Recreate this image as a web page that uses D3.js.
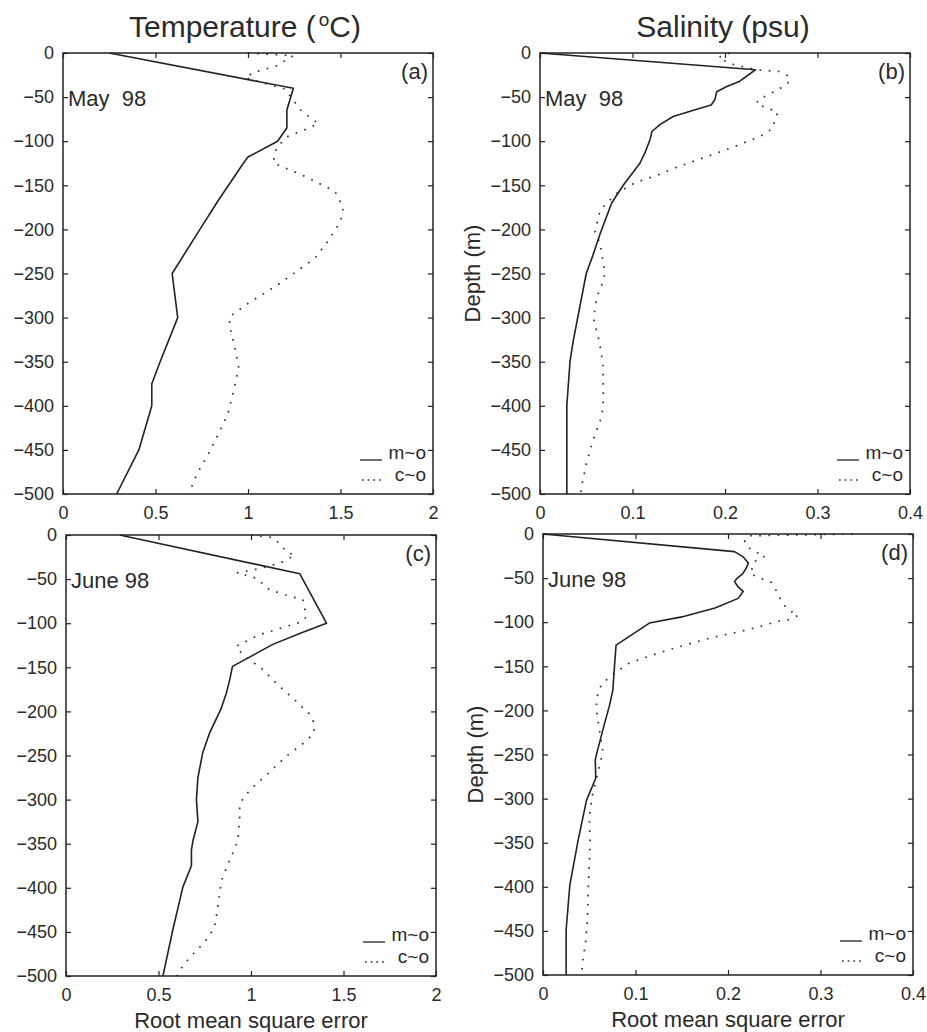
<!DOCTYPE html>
<html><head><meta charset="utf-8">
<script src="https://cdn.jsdelivr.net/npm/d3@7"></script>
<style>
html,body{margin:0;padding:0;background:#fff;}
svg text{font-family:"Liberation Sans",Arial,Helvetica,sans-serif;fill:#2a2a2a;}
</style></head><body>
<svg id="chart" width="927" height="1032"></svg>
<script>
// ---------------- data ----------------
const depthTicks = [0,-50,-100,-150,-200,-250,-300,-350,-400,-450,-500];
const tempTicks = [0,0.5,1,1.5,2];
const salTicks = [0,0.1,0.2,0.3,0.4];
const monthLabels = ["May  98","June 98"];
const panelLetters = ["(a)","(b)","(c)","(d)"];
const legendLabels = ["m~o","c~o"];
const xAxisLabel = "Root mean square error";
const yAxisLabel = "Depth (m)";

// [depth (m), RMS error]
const tempMayMO = [[0,0.25],[-40,1.245],[-65,1.21],[-85,1.21],[-100,1.16],[-118,1.0],[-125,0.975],[-167,0.84],[-200,0.74],[-250,0.59],[-300,0.62],[-350,0.525],[-375,0.48],[-400,0.48],[-450,0.41],[-500,0.29]];
const tempMayCO = [[0,1.0],[-3,1.245],[-10,1.19],[-15,1.15],[-19,1.08],[-22,1.03],[-28,0.985],[-41,1.2],[-66,1.29],[-80,1.38],[-86,1.32],[-95,1.21],[-106,1.16],[-115,1.14],[-125,1.14],[-140,1.31],[-157,1.47],[-175,1.515],[-191,1.5],[-214,1.43],[-233,1.36],[-263,1.16],[-284,1.0],[-299,0.9],[-309,0.9],[-335,0.93],[-357,0.95],[-385,0.92],[-410,0.89],[-432,0.84],[-455,0.785],[-479,0.72],[-500,0.68]];
const salMayMO = [[0,0.0],[-19,0.233],[-32,0.216],[-38,0.202],[-44,0.191],[-53,0.189],[-59,0.185],[-65,0.166],[-72,0.144],[-81,0.13],[-89,0.121],[-98,0.119],[-113,0.1135],[-125,0.108],[-150,0.09],[-170,0.0775],[-205,0.065],[-230,0.057],[-250,0.05],[-288,0.043],[-326,0.036],[-349,0.0325],[-400,0.029],[-500,0.029]];
const salMayCO = [[0,0.205],[-5,0.193],[-12,0.205],[-19,0.234],[-21,0.259],[-27,0.27],[-34,0.268],[-42,0.257],[-47,0.247],[-53,0.236],[-58,0.234],[-62,0.245],[-67,0.257],[-75,0.254],[-85,0.252],[-93,0.241],[-103,0.218],[-112,0.195],[-121,0.171],[-129,0.149],[-138,0.128],[-147,0.103],[-159,0.083],[-169,0.0735],[-178,0.065],[-203,0.0595],[-216,0.065],[-241,0.069],[-250,0.0703],[-263,0.0667],[-276,0.0617],[-290,0.0595],[-301,0.058],[-314,0.061],[-327,0.064],[-352,0.068],[-390,0.0685],[-403,0.068],[-417,0.065],[-440,0.057],[-466,0.05],[-491,0.045],[-500,0.044]];
const tempJunMO = [[0,0.29],[-44,1.264],[-100,1.408],[-111,1.27],[-124,1.118],[-149,0.9],[-164,0.885],[-179,0.867],[-196,0.84],[-205,0.82],[-224,0.777],[-247,0.739],[-275,0.713],[-300,0.705],[-325,0.713],[-347,0.686],[-357,0.678],[-375,0.678],[-399,0.632],[-447,0.578],[-500,0.524]];
const tempJunCO = [[0,1.0],[-3,1.12],[-12,1.165],[-19,1.19],[-23,1.237],[-32,1.156],[-38,1.047],[-43,0.925],[-49,1.03],[-62,1.1],[-70,1.219],[-73,1.28],[-83,1.29],[-92,1.3],[-98,1.28],[-105,1.17],[-113,1.047],[-126,0.92],[-136,0.956],[-151,1.056],[-170,1.146],[-187,1.237],[-205,1.327],[-217,1.345],[-226,1.335],[-235,1.29],[-251,1.19],[-269,1.1],[-286,1.01],[-296,0.966],[-305,0.939],[-319,0.939],[-345,0.93],[-356,0.912],[-368,0.885],[-392,0.84],[-405,0.831],[-432,0.813],[-443,0.804],[-454,0.777],[-464,0.739],[-473,0.695],[-484,0.65],[-494,0.614],[-500,0.6]];
const salJunMO = [[0,0.0],[-20,0.207],[-26,0.2165],[-33,0.222],[-38,0.22],[-45,0.216],[-50,0.21],[-54,0.207],[-60,0.211],[-65,0.2165],[-73,0.211],[-84,0.186],[-94,0.15],[-101,0.115],[-126,0.079],[-150,0.0773],[-177,0.0755],[-194,0.072],[-215,0.0665],[-245,0.059],[-256,0.0565],[-277,0.057],[-302,0.047],[-347,0.038],[-398,0.029],[-449,0.025],[-500,0.025]];
const salJunCO = [[0,0.335],[-2,0.222],[-8,0.218],[-14,0.22],[-20,0.229],[-25,0.24],[-31,0.229],[-45,0.224],[-50,0.2345],[-55,0.247],[-65,0.2526],[-77,0.258],[-86,0.265],[-92,0.276],[-97,0.267],[-99,0.254],[-106,0.231],[-112,0.207],[-117,0.184],[-124,0.16],[-131,0.137],[-139,0.1135],[-147,0.092],[-162,0.072],[-171,0.063],[-182,0.059],[-196,0.0575],[-209,0.059],[-222,0.061],[-247,0.0647],[-298,0.053],[-322,0.05],[-349,0.051],[-399,0.049],[-438,0.048],[-464,0.046],[-477,0.044],[-490,0.0423],[-500,0.042]];

// ---------------- layout ----------------
const W = 370, H = 441;
const layout = [{left:63, top:53},{left:540, top:53},{left:66, top:535},{left:543, top:534}];
const panelDefs = [
  {mo: tempMayMO, co: tempMayCO, ticks: tempTicks, month: monthLabels[0], letter: panelLetters[0], yLab:false, xLab:false},
  {mo: salMayMO,  co: salMayCO,  ticks: salTicks,  month: monthLabels[0], letter: panelLetters[1], yLab:true,  xLab:false},
  {mo: tempJunMO, co: tempJunCO, ticks: tempTicks, month: monthLabels[1], letter: panelLetters[2], yLab:false, xLab:true},
  {mo: salJunMO,  co: salJunCO,  ticks: salTicks,  month: monthLabels[1], letter: panelLetters[3], yLab:true,  xLab:true}
];
const ink = "#222";
const dotDash = "1.7 7.5";

const svg = d3.select("#chart");
const fmtY = d => d < 0 ? "\u2212" + Math.abs(d) : String(d);

panelDefs.forEach((p, i) => {
  const L = layout[i];
  const g = svg.append("g").attr("transform", `translate(${L.left},${L.top})`);
  const x = d3.scaleLinear().domain([p.ticks[0], p.ticks[p.ticks.length - 1]]).range([0, W]);
  const y = d3.scaleLinear().domain([-500, 0]).range([H, 0]);
  const line = d3.line().x(d => x(d[1])).y(d => y(d[0]));

  g.append("path").datum(p.co).attr("d", line).attr("fill", "none")
    .attr("stroke", "#333").attr("stroke-width", 1.7).attr("stroke-dasharray", dotDash);
  g.append("path").datum(p.mo).attr("d", line).attr("fill", "none")
    .attr("stroke", ink).attr("stroke-width", 1.6).attr("stroke-linejoin", "round");

  const styleAxis = sel => {
    sel.select(".domain").remove();
    sel.attr("font-size", 18).attr("font-family", null);
    sel.selectAll(".tick line").attr("stroke", ink).attr("stroke-width", 1.2);
  };
  g.append("g").call(d3.axisLeft(y).tickValues(depthTicks).tickSize(-5).tickPadding(9).tickFormat(fmtY)).call(styleAxis);
  g.append("g").attr("transform", `translate(0,${H})`)
    .call(d3.axisBottom(x).tickValues(p.ticks).tickSize(-5).tickPadding(12).tickFormat(d => String(d))).call(styleAxis);
  g.append("g").attr("transform", `translate(${W},0)`)
    .call(d3.axisRight(y).tickValues(depthTicks).tickSize(-5).tickFormat("")).call(styleAxis);
  g.append("g").call(d3.axisTop(x).tickValues(p.ticks).tickSize(-5).tickFormat("")).call(styleAxis);

  g.append("rect").attr("x", 0).attr("y", 0).attr("width", W).attr("height", H)
    .attr("fill", "none").attr("stroke", ink).attr("stroke-width", 1.5);

  g.append("text").attr("x", 5).attr("y", 53).attr("font-size", 22)
    .style("white-space", "pre").text(p.month);
  g.append("text").attr("x", W - 5).attr("y", 26).attr("font-size", 22)
    .attr("text-anchor", "end").text(p.letter);

  // legend
  g.append("line").attr("x1", W - 73).attr("x2", W - 51).attr("y1", H - 34).attr("y2", H - 34)
    .attr("stroke", ink).attr("stroke-width", 1.3);
  g.append("line").attr("x1", W - 71).attr("x2", W - 50).attr("y1", H - 14).attr("y2", H - 14)
    .attr("stroke", "#333").attr("stroke-width", 1.7).attr("stroke-dasharray", "1.7 4");
  g.append("text").attr("x", W - 7).attr("y", H - 35).attr("font-size", 19)
    .attr("text-anchor", "end").text(legendLabels[0]);
  g.append("text").attr("x", W - 7).attr("y", H - 13).attr("font-size", 19)
    .attr("text-anchor", "end").text(legendLabels[1]);

  if (p.yLab) {
    g.append("text").attr("transform", `translate(-60,${H / 2}) rotate(-90)`)
      .attr("text-anchor", "middle").attr("font-size", 22).text(yAxisLabel);
  }
  if (p.xLab) {
    g.append("text").attr("x", W / 2).attr("y", H + 51.5)
      .attr("text-anchor", "middle").attr("font-size", 22).text(xAxisLabel);
  }
});

// column titles
const t1 = svg.append("text").attr("x", layout[0].left + W / 2 - 3).attr("y", 37)
  .attr("text-anchor", "middle").attr("font-size", 30);
t1.append("tspan").text("Temperature (");
t1.append("tspan").attr("font-size", 19).attr("dy", -11).attr("dx", 3).text("o");
t1.append("tspan").attr("dy", 11).text("C)");
svg.append("text").attr("x", layout[1].left + W / 2 - 2).attr("y", 37)
  .attr("text-anchor", "middle").attr("font-size", 30).text("Salinity (psu)");
</script>
</body></html>
